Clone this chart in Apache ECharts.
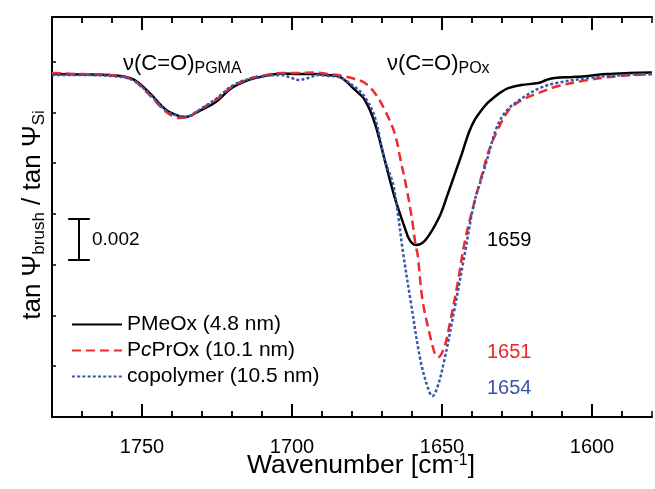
<!DOCTYPE html>
<html><head><meta charset="utf-8">
<script src="https://cdn.jsdelivr.net/npm/echarts@6/dist/echarts.min.js"></script>
<style>html,body{margin:0;padding:0;background:#fff}#c{width:655px;height:489px}</style>
</head><body><div id="c"></div>
<script>
// ---- data: [wavenumber (cm-1), tanPsi_brush / tanPsi_Si] ----
const seriesNames = ['PMeOx (4.8 nm)', 'PcPrOx (10.1 nm)', 'copolymer (10.5 nm)'];
const pmeox = [[1780,0.99939],[1770.7,0.99937],[1760.8,0.99934],[1753.2,0.99915],[1747.5,0.99846],[1741.9,0.99762],[1737.6,0.99732],[1735.3,0.99728],[1731.0,0.99757],[1725.4,0.99801],[1720.1,0.99870],[1714.4,0.99910],[1708.8,0.99930],[1703.5,0.99942],[1697.9,0.99939],[1692.3,0.99939],[1688.0,0.99934],[1684.0,0.99925],[1679.0,0.99861],[1675.7,0.99811],[1672.4,0.99698],[1669.1,0.99516],[1665.8,0.99333],[1662.5,0.99186],[1660.8,0.99122],[1658.8,0.99097],[1655.5,0.99122],[1650.9,0.99235],[1648.2,0.99343],[1645.6,0.99452],[1643.3,0.99550],[1641.1,0.99649],[1639.1,0.99713],[1636.8,0.99762],[1634.8,0.99797],[1632.5,0.99826],[1630.2,0.99851],[1627.9,0.99870],[1623.6,0.99885],[1617.9,0.99895],[1615.2,0.99910],[1612.5,0.99920],[1606.2,0.99925],[1601.2,0.99930],[1595.2,0.99939],[1587.6,0.99944],[1580,0.99947]];
const pcprox = [[1780,0.99944],[1770.7,0.99939],[1760.8,0.99934],[1753.2,0.99910],[1747.5,0.99836],[1741.9,0.99752],[1737.6,0.99723],[1734.3,0.99728],[1731.0,0.99762],[1725.4,0.99811],[1720.1,0.99875],[1714.4,0.99915],[1708.8,0.99934],[1703.5,0.99944],[1697.9,0.99944],[1692.3,0.99947],[1688.0,0.99939],[1684.6,0.99934],[1679.0,0.99915],[1675.7,0.99895],[1672.4,0.99846],[1669.1,0.99762],[1665.8,0.99649],[1663.8,0.99516],[1661.5,0.99353],[1659.8,0.99205],[1658.8,0.99097],[1658.1,0.99048],[1656.5,0.98826],[1654.2,0.98664],[1652.2,0.98555],[1651.2,0.98545],[1649.2,0.98595],[1647.5,0.98703],[1644.9,0.98900],[1642.3,0.99122],[1639.0,0.99319],[1636.6,0.99447],[1634.3,0.99565],[1631.0,0.99678],[1627.7,0.99762],[1623.4,0.99811],[1617.7,0.99846],[1612.5,0.99875],[1601.2,0.99910],[1590.3,0.99930],[1580,0.99939]];
const copolymer = [[1780,0.99934],[1770.7,0.99934],[1760.8,0.99930],[1753.2,0.99910],[1747.5,0.99841],[1741.9,0.99757],[1737.6,0.99732],[1735.3,0.99728],[1731.0,0.99762],[1725.4,0.99816],[1720.1,0.99880],[1714.4,0.99915],[1708.8,0.99930],[1703.5,0.99934],[1700.2,0.99920],[1697.9,0.99910],[1694.6,0.99920],[1691.3,0.99934],[1688.0,0.99930],[1684.6,0.99925],[1679.0,0.99875],[1675.7,0.99826],[1672.4,0.99727],[1669.1,0.99516],[1666.4,0.99402],[1664.8,0.99260],[1663.1,0.99072],[1660.5,0.98826],[1657.2,0.98531],[1654.8,0.98398],[1653.2,0.98353],[1651.5,0.98398],[1649.2,0.98531],[1645.9,0.98777],[1642.6,0.99038],[1639.3,0.99304],[1637.0,0.99417],[1635.0,0.99516],[1631.7,0.99678],[1628.3,0.99762],[1622.7,0.99826],[1617.4,0.99870],[1611.8,0.99895],[1600.9,0.99920],[1589.6,0.99934],[1580,0.99939]];
const xMajorTicks = [1750, 1700, 1650, 1600];
const xMinorTicks = [1770, 1760, 1740, 1730, 1720, 1710, 1690, 1680, 1670, 1660, 1640, 1630, 1620, 1610, 1590];
const peakLabels = ['1659', '1651', '1654'];
const scaleBar = {x: 1771, half: 3.6, top: 0.99224, len: 0.002, label: '0.002'};

const colors = ['#000000', '#ee2a2a', '#3a55a8'];
const FONT = 'Liberation Sans, Arial, sans-serif';
const Y_MIN = 0.9825, Y_MAX = 1.0022;
const MAJOR_LEN = 0.00064, MINOR_LEN = 0.0003;   // tick lengths in y units (about 13 px / 6 px)

const chart = echarts.init(document.getElementById('c'), null, {renderer: 'canvas'});
function xAx(pos, labels) {
  return {
    type: 'value', min: 1580, max: 1780, inverse: true, position: pos, interval: 10,
    splitLine: {show: false},
    axisLine: {show: true, lineStyle: {color: '#000', width: 2}},
    axisTick: {show: true, inside: true, length: 6, lineStyle: {width: 1.5, color: '#000'}},
    axisLabel: labels ? {show: true, margin: 20, fontSize: 20, fontFamily: FONT, color: '#000',
      formatter: function (v) { return xMajorTicks.indexOf(v) >= 0 ? String(v) : ''; }} : {show: false}
  };
}

// inward frame ticks (bottom and top), placed in data coordinates
function tickSegs(values, len, width) {
  const out = [];
  values.forEach(function (v) {
    out.push([{coord: [v, Y_MIN], lineStyle: {width: width, color: '#000', type: 'solid'}}, {coord: [v, Y_MIN + len]}]);
    out.push([{coord: [v, Y_MAX], lineStyle: {width: width, color: '#000', type: 'solid'}}, {coord: [v, Y_MAX - len]}]);
  });
  return out;
}
const tickLines = tickSegs(xMajorTicks, MAJOR_LEN, 2).concat(tickSegs(xMinorTicks, MINOR_LEN, 1.5));

const option = {
  animation: false,
  backgroundColor: '#fff',
  grid: {left: 52, top: 17, width: 603, height: 400},
  xAxis: [xAx('bottom', true), xAx('top', false)],
  yAxis: {type: 'value', min: Y_MIN, max: Y_MAX, interval: 0.0025, position: 'left', scale: true,
    axisLine: {show: true, lineStyle: {color: '#000', width: 2}},
    axisTick: {show: true, inside: true, length: 4, lineStyle: {width: 1.5, color: '#000'}},
    axisLabel: {show: false}, splitLine: {show: false}},
  legend: {
    data: seriesNames, orient: 'vertical', left: 66, top: 309, itemWidth: 50, itemHeight: 14, itemGap: 5,
    itemStyle: {opacity: 0},
    textStyle: {fontSize: 21, fontFamily: FONT, color: '#000',
      rich: {n: {fontSize: 21, fontFamily: FONT, color: '#000'}, i: {fontSize: 21, fontFamily: FONT, fontStyle: 'italic', color: '#000'}}},
    formatter: function (name) {
      if (name.indexOf('PcPrOx') === 0) return '{n|P}{i|c}{n|' + name.slice(2) + '}';
      return '{n|' + name + '}';
    }
  },
  series: [
    {name: seriesNames[0], type: 'line', data: pmeox, smooth: 0.35, symbol: 'none', xAxisIndex: 0,
      lineStyle: {color: colors[0], width: 2.5, type: 'solid'}, itemStyle: {color: colors[0]}, z: 3},
    {name: seriesNames[1], type: 'line', data: pcprox, smooth: 0.35, symbol: 'none', xAxisIndex: 0,
      lineStyle: {color: colors[1], width: 2.5, type: [9, 5]}, itemStyle: {color: colors[1]}, z: 4},
    {name: seriesNames[2], type: 'line', data: copolymer, smooth: 0.35, symbol: 'none', xAxisIndex: 0,
      lineStyle: {color: colors[2], width: 2.5, type: [3, 2.2]}, itemStyle: {color: colors[2]}, z: 5},
    {name: 'frameTicks', type: 'line', data: [], xAxisIndex: 0, silent: true, z: 6,
      markLine: {symbol: 'none', silent: true, animation: false, label: {show: false},
        lineStyle: {color: '#000', width: 2, type: 'solid'}, data: tickLines}},
    {name: 'scalebar', type: 'line', data: [], xAxisIndex: 0, silent: true,
      markLine: {symbol: 'none', silent: true, animation: false, label: {show: false},
        lineStyle: {color: '#000', width: 2, type: 'solid'},
        data: [
          [{coord: [scaleBar.x, scaleBar.top]}, {coord: [scaleBar.x, scaleBar.top - scaleBar.len]}],
          [{coord: [scaleBar.x + scaleBar.half, scaleBar.top]}, {coord: [scaleBar.x - scaleBar.half, scaleBar.top]}],
          [{coord: [scaleBar.x + scaleBar.half, scaleBar.top - scaleBar.len]}, {coord: [scaleBar.x - scaleBar.half, scaleBar.top - scaleBar.len]}]
        ]}}
  ],
  graphic: [
    {type: 'text', x: 33, y: 215, rotation: Math.PI / 2, style: {
      text: '{m|tan Ψ}{s|brush}{m| / tan Ψ}{s|Si}', align: 'center', verticalAlign: 'middle', textAlign: 'center', textVerticalAlign: 'middle',
      rich: {m: {fontSize: 26, fontFamily: FONT, fill: '#000', color: '#000', verticalAlign: 'middle'},
             s: {fontSize: 17, fontFamily: FONT, fill: '#000', color: '#000', verticalAlign: 'bottom', padding: [13, 0, 0, 0]}}}},
    {type: 'text', x: 361, y: 466, style: {
      text: '{m|Wavenumber [cm}{p|-1}{m|]}', align: 'center', verticalAlign: 'middle', textAlign: 'center', textVerticalAlign: 'middle',
      rich: {m: {fontSize: 26.5, fontFamily: FONT, fill: '#000', color: '#000', verticalAlign: 'middle'},
             p: {fontSize: 16, fontFamily: FONT, fill: '#000', color: '#000', verticalAlign: 'top', padding: [0, 0, 11, 0]}}}},
    {type: 'text', x: 123, y: 64, style: {
      text: '{m|ν(C=O)}{s|PGMA}', align: 'left', verticalAlign: 'middle', textAlign: 'left', textVerticalAlign: 'middle',
      rich: {m: {fontSize: 22, fontFamily: FONT, fill: '#000', verticalAlign: 'middle'},
             s: {fontSize: 16, fontFamily: FONT, fill: '#000', verticalAlign: 'bottom', padding: [10, 0, 0, 0]}}}},
    {type: 'text', x: 387, y: 64, style: {
      text: '{m|ν(C=O)}{s|POx}', align: 'left', verticalAlign: 'middle', textAlign: 'left', textVerticalAlign: 'middle',
      rich: {m: {fontSize: 22, fontFamily: FONT, fill: '#000', verticalAlign: 'middle'},
             s: {fontSize: 16, fontFamily: FONT, fill: '#000', verticalAlign: 'bottom', padding: [10, 0, 0, 0]}}}},
    {type: 'text', x: 92, y: 240, style: {text: scaleBar.label, fontSize: 19, fontFamily: FONT, fill: '#000', align: 'left', verticalAlign: 'middle', textAlign: 'left', textVerticalAlign: 'middle'}},
    {type: 'text', x: 487, y: 240, style: {text: peakLabels[0], fontSize: 20, fontFamily: FONT, fill: colors[0], align: 'left', verticalAlign: 'middle', textAlign: 'left', textVerticalAlign: 'middle'}},
    {type: 'text', x: 487, y: 352, style: {text: peakLabels[1], fontSize: 20, fontFamily: FONT, fill: '#e8262b', align: 'left', verticalAlign: 'middle', textAlign: 'left', textVerticalAlign: 'middle'}},
    {type: 'text', x: 487, y: 388, style: {text: peakLabels[2], fontSize: 20, fontFamily: FONT, fill: '#3a55a8', align: 'left', verticalAlign: 'middle', textAlign: 'left', textVerticalAlign: 'middle'}}
  ]
};
chart.setOption(option);
</script></body></html>
